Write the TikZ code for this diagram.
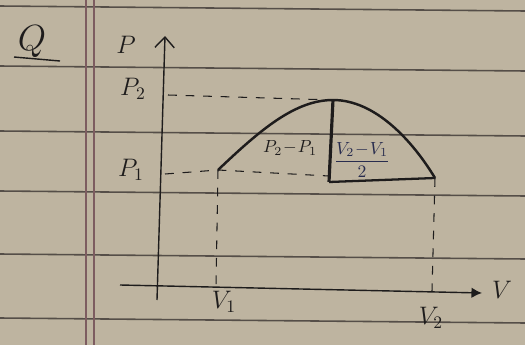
\documentclass[tikz,border=0pt]{standalone}
\usepackage{amsmath}
\usetikzlibrary{arrows.meta}

\definecolor{paper}{RGB}{190,180,160}
\definecolor{rule}{RGB}{85,78,72}
\definecolor{margin}{RGB}{125,92,96}
\definecolor{ink}{RGB}{30,28,28}
\definecolor{blueink}{RGB}{40,44,78}

\begin{document}
\begin{tikzpicture}[
    x=0.02cm, y=-0.02cm,
    every node/.style={font=\Large, text=ink, inner sep=1pt},
    ruling/.style={rule, line width=0.9pt},
    axis/.style={ink, thick},
    guide/.style={ink, dashed, dash pattern=on 5pt off 5pt, semithick},
    curve/.style={ink, line width=1.4pt},
    riser/.style={ink, line width=1.8pt}
]

% papir
\fill[paper] (0,0) rectangle (525,345);
\useasboundingbox (0,0) rectangle (525,345);

% linky
\foreach \y in {6,66,131,191,254,318}
  \draw[ruling] (0,\y) -- (525,\y+5);
\draw[margin, line width=0.9pt] (86,0) -- (86,345);
\draw[margin, line width=0.9pt] (94,0) -- (94,345);

% Q
\node[font=\huge] (Q) at (32,42) {$Q$};
\draw[ink, thick] (14,57) -- (60,61);

% osy
\coordinate (Pbot) at (157,300);
\coordinate (Ptop) at (165,36);
\coordinate (Vbeg) at (120,285);
\coordinate (Vend) at (482,293);
\draw[axis, -{Straight Barb[length=6pt,width=11pt]}] (Pbot) -- (Ptop);
\draw[axis, -{Latex[length=6pt,width=6pt]}] (Vbeg) -- (Vend);
\node (P) at (126,45) {$P$};
\node (V) at (502,290) {$V$};

% body krivky
\coordinate (A) at (218,170);
\coordinate (T) at (333,100);
\coordinate (B) at (435,178);
\coordinate (F) at (329,182);
\coordinate (AP) at (165,174);
\coordinate (TP) at (168,95);
\coordinate (AV) at (216,286);
\coordinate (BV) at (432,291);
\coordinate (AR) at (329,176);

% popisky os
\node (P2) at (133,89) {$P_2$};
\node (P1) at (131,170) {$P_1$};
\node (V1) at (224,302) {$V_1$};
\node (V2) at (431,318) {$V_2$};

% carkovane
\draw[guide] (TP) -- (T);
\draw[guide] (AP) -- (A) -- (AR);
\draw[guide] (A) -- (AV);
\draw[guide] (B) -- (BV);

% krivka
\draw[curve] (A) .. controls (260,130) and (295,100) .. (T)
                 .. controls (375,100) and (412,140) .. (B);

% trojuhelnik
\draw[riser] (T) -- (F);
\draw[ink, line width=1.3pt] (F) -- (B);

\node[font=\normalsize] (dP) at (290,148) {$P_2\!-\!P_1$};
\node[font=\normalsize, text=blueink] (dV) at (362,160) {$\dfrac{V_2\!-\!V_1}{2}$};

\end{tikzpicture}
\end{document}
